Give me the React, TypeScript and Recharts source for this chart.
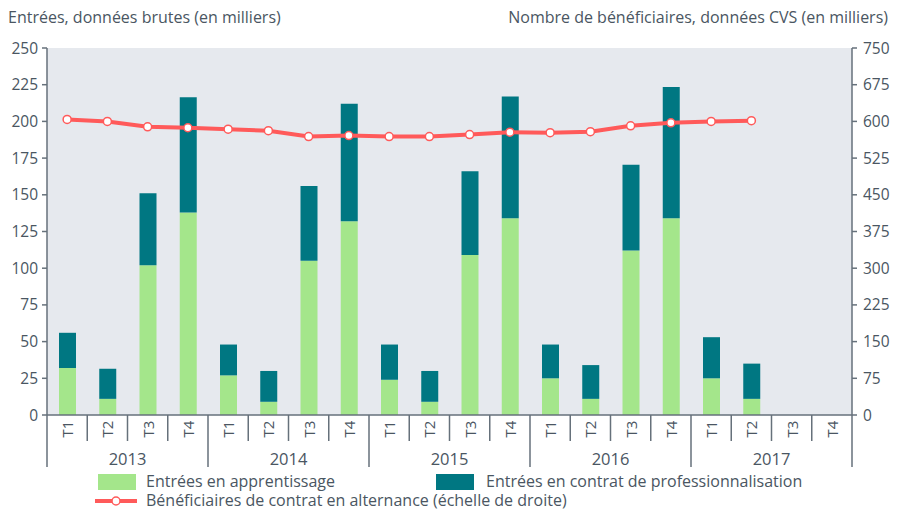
import { ComposedChart, Bar, Line, XAxis, YAxis, CartesianGrid } from 'recharts'

const years = ['2013', '2014', '2015', '2016', '2017']
const quarters = ['T1', 'T2', 'T3', 'T4']

// entrées, données brutes (milliers)
const apprentissage = [32, 11, 102, 138, 27, 9, 105, 132, 24, 9, 109, 134, 25, 11, 112, 134, 25, 11, null, null]
const professionnalisation = [24, 20.5, 49, 78.5, 21, 21, 51, 80, 24, 21, 57, 83, 23, 23, 58.5, 89.5, 28, 24, null, null]
// bénéficiaires, CVS (milliers) - échelle de droite
const beneficiaires = [604, 600, 589, 587, 584, 581, 569, 571, 569, 569, 573, 578, 577, 579, 591, 597, 600, 601.5, null, null]

const leftTicks = [0, 25, 50, 75, 100, 125, 150, 175, 200, 225, 250]
const rightTicks = [0, 75, 150, 225, 300, 375, 450, 525, 600, 675, 750]

const data = years.flatMap((y, yi) =>
  quarters.map((q, qi) => {
    const i = yi * 4 + qi
    return {
      key: `${y} ${q}`,
      apprentissage: apprentissage[i],
      professionnalisation: professionnalisation[i],
      beneficiaires: beneficiaires[i],
    }
  })
)

const GREEN = '#a4e68b'
const TEAL = '#007782'
const RED = '#ff5a5a'
const TEXT = '#4a5662'
const AXIS = '#66717b'
const FONT = '"Open Sans", sans-serif'

const W = 907
const H = 510
const PLOT_L = 47
const PLOT_R = 852
const BAND = (PLOT_R - PLOT_L) / data.length

const QuarterTick = (props: any) => {
  const { x, y, payload } = props
  const i: number = payload.index
  const cy = y + 14
  return (
    <g>
      <text
        x={x} y={cy}
        transform={`rotate(-90 ${x} ${cy})`}
        textAnchor="middle" dominantBaseline="central"
        fill={TEXT} fontSize={15} fontFamily={FONT}
      >
        {quarters[i % 4]}
      </text>
      <line x1={x + BAND / 2} y1={y} x2={x + BAND / 2} y2={i % 4 === 3 ? y + 52 : y + 26} stroke={AXIS} strokeWidth={1.5} />
      {i === 0 && <line x1={x - BAND / 2} y1={y} x2={x - BAND / 2} y2={y + 52} stroke={AXIS} strokeWidth={1.5} />}
      {i % 4 === 1 && (
        <text x={x + BAND / 2} y={y + 43} textAnchor="middle" dominantBaseline="central" fill={TEXT} fontSize={16.5} fontFamily={FONT}>
          {years[Math.floor(i / 4)]}
        </text>
      )}
    </g>
  )
}

const Dot = (props: any) => {
  const { cx, cy, value } = props
  if (value == null || cx == null || cy == null) return null
  return <circle cx={cx} cy={cy} r={4} fill="#fff" stroke={RED} strokeWidth={1.5} />
}

const legendText = { fontSize: 16, color: TEXT, fontFamily: FONT, lineHeight: '17px', whiteSpace: 'nowrap' as const }

export default function App() {
  return (
    <div style={{ position: 'absolute', left: 0, top: 0, width: W, height: H, background: '#fff', fontFamily: FONT }}>
      <div style={{ position: 'absolute', left: 8, top: 7, ...legendText, lineHeight: '20px' }}>
        Entrées, données brutes (en milliers)
      </div>
      <div style={{ position: 'absolute', right: 19, top: 7, ...legendText, lineHeight: '20px', textAlign: 'right' }}>
        Nombre de bénéficiaires, données CVS (en milliers)
      </div>

      <ComposedChart
        width={W} height={H} data={data}
        margin={{ top: 48, right: 0, bottom: 0, left: 0 }}
        barSize={17}
      >
        <CartesianGrid fill="#e6e9ee" stroke="none" horizontal={false} vertical={false} />
        <XAxis
          dataKey="key" height={95} interval={0}
          tickLine={false} tickSize={0} tickMargin={0}
          axisLine={{ stroke: AXIS, strokeWidth: 1.5 }}
          tick={<QuarterTick />}
        />
        <YAxis
          yAxisId="left" width={47} domain={[0, 250]} ticks={leftTicks}
          axisLine={{ stroke: AXIS, strokeWidth: 1.5 }}
          tickLine={{ stroke: AXIS, strokeWidth: 1.5 }} tickSize={5} tickMargin={4}
          tick={{ fill: TEXT, fontSize: 15.5, fontFamily: FONT }}
        />
        <YAxis
          yAxisId="right" orientation="right" width={55} domain={[0, 750]} ticks={rightTicks}
          axisLine={{ stroke: AXIS, strokeWidth: 1.5 }}
          tickLine={{ stroke: AXIS, strokeWidth: 1.5 }} tickSize={5} tickMargin={6}
          tick={{ fill: TEXT, fontSize: 15.5, fontFamily: FONT }}
        />
        <Bar yAxisId="left" dataKey="apprentissage" stackId="a" fill={GREEN} isAnimationActive={false} />
        <Bar yAxisId="left" dataKey="professionnalisation" stackId="a" fill={TEAL} isAnimationActive={false} />
        <Line
          yAxisId="right" dataKey="beneficiaires" type="linear"
          stroke={RED} strokeWidth={4} dot={<Dot />} activeDot={false}
          isAnimationActive={false}
        />
      </ComposedChart>

      <div style={{ position: 'absolute', left: 98, top: 474, width: 38, height: 16, background: GREEN }} />
      <div style={{ position: 'absolute', left: 146, top: 473, ...legendText }}>Entrées en apprentissage</div>
      <div style={{ position: 'absolute', left: 436, top: 474, width: 38, height: 16, background: TEAL }} />
      <div style={{ position: 'absolute', left: 486, top: 473, ...legendText }}>Entrées en contrat de professionnalisation</div>
      <svg style={{ position: 'absolute', left: 94, top: 494 }} width={44} height={14}>
        <line x1={1} y1={7} x2={43} y2={7} stroke={RED} strokeWidth={4} />
        <circle cx={22} cy={7} r={4} fill="#fff" stroke={RED} strokeWidth={1.5} />
      </svg>
      <div style={{ position: 'absolute', left: 146, top: 492, ...legendText }}>
        Bénéficiaires de contrat en alternance (échelle de droite)
      </div>
    </div>
  )
}
